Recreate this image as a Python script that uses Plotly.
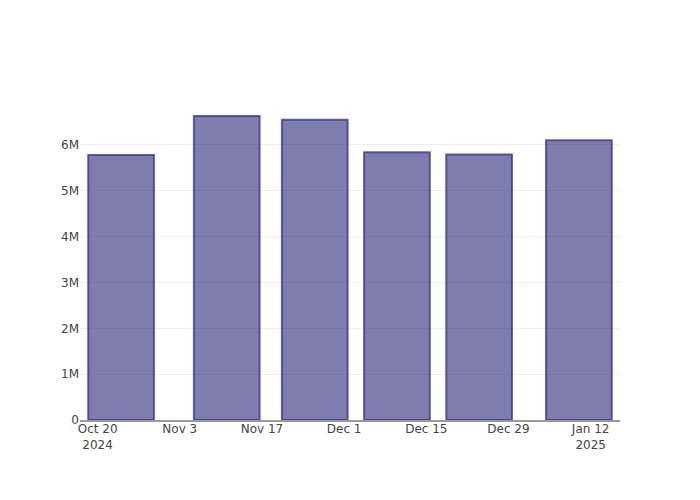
import plotly.graph_objects as go

dates = ["2024-10-24", "2024-11-11", "2024-11-26", "2024-12-10", "2024-12-24", "2025-01-10"]
values = [5780000, 6630000, 6550000, 5840000, 5790000, 6100000]

fig = go.Figure(go.Bar(
    x=dates, y=values,
    marker=dict(color="rgba(40,40,120,0.6)", line=dict(color="rgba(50,50,140,0.75)", width=2)),
))
fig.update_layout(
    width=684, height=484,
    template="plotly_white",
    font=dict(family="DejaVu Sans", size=12, color="#444"),
    showlegend=False,
    margin=dict(l=72, r=72, t=92, b=72),
)
fig.update_xaxes(showline=True, linecolor="#999", linewidth=2, showgrid=False,
                 dtick=14*86400000, tick0="2024-10-20", tickformat="%b %-d\n%Y",
                 ticklabelstandoff=-3)
fig.update_yaxes(gridcolor="#eee", zeroline=False)
fig.write_html("out.html")
